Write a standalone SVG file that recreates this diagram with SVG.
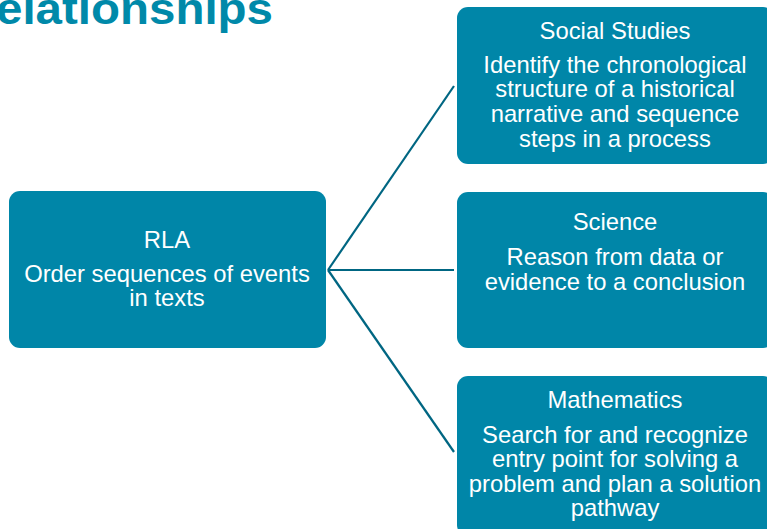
<svg xmlns="http://www.w3.org/2000/svg" width="767" height="529" viewBox="0 0 767 529">
<style>
.box{fill:#0086a8;}
.t{font-family:"Liberation Sans",Arial,sans-serif;font-size:23.8px;fill:#ffffff;text-anchor:middle;}
.title{font-family:"Liberation Sans",Arial,sans-serif;font-size:44px;font-weight:bold;fill:#0089a9;}
.c{stroke:#006682;stroke-width:2.2;fill:none;}
</style>
<rect width="767" height="529" fill="#ffffff"/>
<text class="title" x="-4" y="24" textLength="277" lengthAdjust="spacingAndGlyphs">elationships</text>
<g id="connectors">
<line class="c" x1="328" y1="270" x2="454" y2="86"/>
<line class="c" x1="328" y1="270" x2="454" y2="270"/>
<line class="c" x1="328" y1="270" x2="454" y2="452"/>
</g>
<g id="rla">
<rect class="box" x="9" y="191" width="317" height="157" rx="11"/>
<text class="t" x="167" y="248">RLA</text>
<text class="t" x="167" y="282">Order sequences of events</text>
<text class="t" x="167" y="306">in texts</text>
</g>
<g id="social">
<rect class="box" x="457" y="7" width="317" height="157" rx="11"/>
<text class="t" x="615" y="39">Social Studies</text>
<text class="t" x="615" y="73">Identify the chronological</text>
<text class="t" x="615" y="97">structure of a historical</text>
<text class="t" x="615" y="122">narrative and sequence</text>
<text class="t" x="615" y="147">steps in a process</text>
</g>
<g id="science">
<rect class="box" x="457" y="192" width="317" height="156" rx="11"/>
<text class="t" x="615" y="230">Science</text>
<text class="t" x="615" y="265">Reason from data or</text>
<text class="t" x="615" y="290">evidence to a conclusion</text>
</g>
<g id="math">
<rect class="box" x="457" y="376" width="317" height="160" rx="11"/>
<text class="t" x="615" y="408">Mathematics</text>
<text class="t" x="615" y="443">Search for and recognize</text>
<text class="t" x="615" y="467">entry point for solving a</text>
<text class="t" x="615" y="492">problem and plan a solution</text>
<text class="t" x="615" y="516">pathway</text>
</g>
</svg>
